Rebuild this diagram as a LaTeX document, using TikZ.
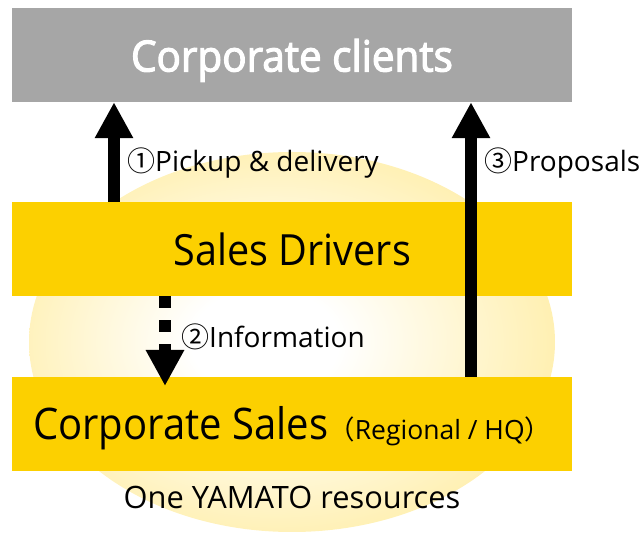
\documentclass[tikz,border=0pt]{standalone}
\usepackage{fontspec}
\setmainfont{Open Sans}
\newfontfamily\bigfont[FakeStretch=0.92]{Open Sans}
\newfontfamily\clientfont[FakeStretch=0.94,FakeBold=2.6]{Open Sans}
\newfontfamily\cjkfont{Noto Sans CJK JP}
\usetikzlibrary{arrows.meta}
\definecolor{clientgray}{HTML}{A6A6A6}
\definecolor{baryellow}{HTML}{FCD000}
\definecolor{glowyellow}{HTML}{FFEA94}
\pgfdeclareradialshading{glow}{\pgfpoint{-3bp}{0bp}}{color(0bp)=(white); color(7bp)=(white); color(34bp)=(glowyellow); color(50bp)=(glowyellow)}
\tikzset{
  bar/.style={rectangle, minimum width=560pt, minimum height=94pt, inner sep=0pt, draw=none},
  bigtext/.style={inner sep=0pt, anchor=base, font=\bigfont\fontsize{43}{50}\selectfont},
  lbl/.style={inner sep=0pt, anchor=base west, font=\fontsize{28}{33}\selectfont},
  uparrow/.style={line width=11.5pt, -{Triangle[length=36pt,width=36pt]}},
  infoarrow/.style={line width=12.5pt, dash pattern=on 12pt off 12pt, -{Triangle[length=36pt,width=36pt]}}
}
\begin{document}
\begin{tikzpicture}[x=1pt,y=-1pt]
\useasboundingbox (0,0) rectangle (641,534);
\path[shading=glow] (292,342) ellipse [x radius=263, y radius=190];
\node[bar, fill=clientgray] (clients) at (292,55) {};
\node[bar, fill=baryellow] (drivers) at (292,249) {};
\node[bar, fill=baryellow] (sales) at (292,424) {};
\coordinate (c1) at (114,0);
\coordinate (c3) at (471,0);
\coordinate (d2end) at (165,386);
\draw[uparrow] (drivers.north -| c1) -- (clients.south -| c1);
\draw[uparrow] (sales.north -| c3) -- (clients.south -| c3);
\draw[infoarrow] (drivers.south -| d2end) -- (d2end);
\node[bigtext, text=white, font=\clientfont\fontsize{43}{50}\selectfont] (tclients) at (292,71.5) {Corporate clients};
\node[bigtext] (tdrivers) at (292.5,266) {Sales Drivers};
\node[inner sep=0pt, anchor=base west, font=\bigfont\fontsize{43.5}{50}\selectfont] (tsales) at (33,440) {Corporate Sales{\normalfont\fontsize{26.5}{31}\selectfont{\cjkfont （}Regional / HQ{\cjkfont ）}}};
\node[lbl] (t1) at (127,172) {{\cjkfont ①}Pickup \& delivery};
\node[lbl] (t2) at (181,348) {{\cjkfont ②}Information};
\node[lbl] (t3) at (484,172) {{\cjkfont ③}Proposals};
\node[inner sep=0pt, anchor=base, font=\fontsize{30.8}{36}\selectfont] (tone) at (292,509) {One YAMATO resources};
\end{tikzpicture}
\end{document}
